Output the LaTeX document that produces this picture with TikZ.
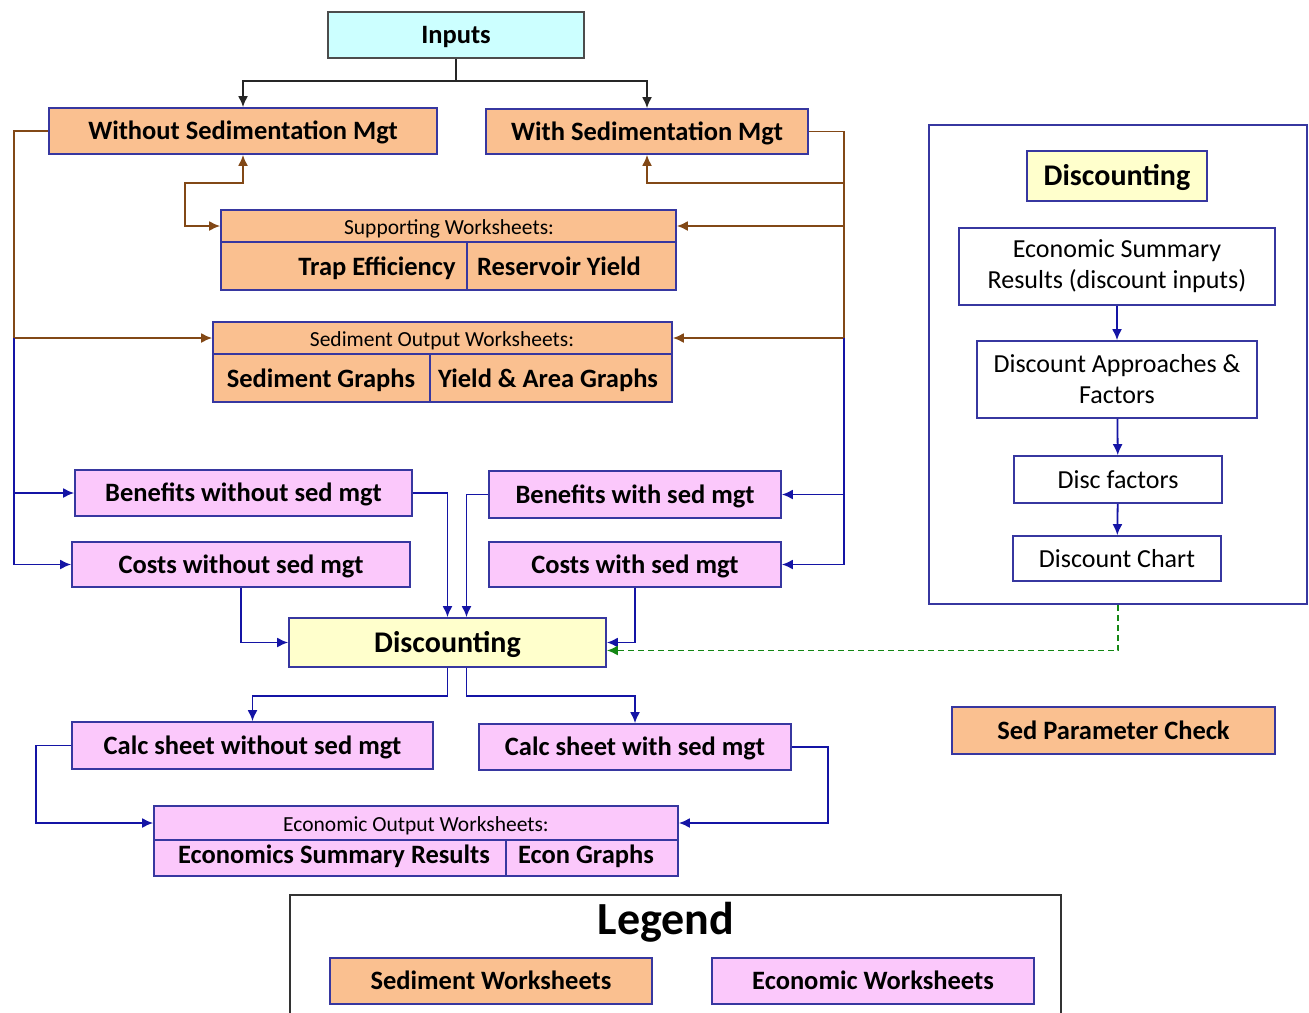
\documentclass[tikz,border=0pt]{standalone}
\usepackage{fontspec}
\setmainfont{Carlito}
\usetikzlibrary{arrows.meta}
\definecolor{sedfill}{RGB}{250,192,144}
\definecolor{ecofill}{RGB}{251,200,251}
\definecolor{discfill}{RGB}{255,255,204}
\definecolor{infill}{RGB}{204,255,255}
\definecolor{edgeblue}{RGB}{55,55,160}
\definecolor{linkblue}{RGB}{20,20,165}
\definecolor{linkbrown}{RGB}{130,72,22}
\definecolor{linkgreen}{RGB}{20,135,20}
\newcommand{\lblfont}{\fontsize{26.5}{30}\selectfont\bfseries}
\newcommand{\hdfont}{\fontsize{21.5}{24}\selectfont}
\newcommand{\panfont}{\fontsize{26}{31}\selectfont}
\newcommand{\discfont}{\fontsize{30}{34}\selectfont\bfseries}
\newcommand{\legfont}{\fontsize{46}{52}\selectfont\bfseries}
\tikzset{
  ws/.style={draw=edgeblue, line width=1.7pt, inner sep=0pt, font=\lblfont, text height=20pt, text depth=3pt},
  sedws/.style={ws, fill=sedfill},
  ecows/.style={ws, fill=ecofill},
  discws/.style={ws, fill=discfill, font=\discfont, text height=23pt, text depth=3.5pt},
  panws/.style={draw=edgeblue, line width=1.7pt, inner sep=0pt, fill=white, font=\panfont, align=center},
  celltxt/.style={inner sep=0pt, font=\lblfont, text height=20pt, text depth=3pt},
  hdtxt/.style={inner sep=0pt, font=\hdfont},
  divline/.style={draw=edgeblue, line width=1.4pt},
  tip/.style={-{Latex[length=11pt,width=10pt]}},
  blk/.style={draw=black!85, line width=1.8pt, tip},
  brn/.style={draw=linkbrown, line width=1.8pt},
  blu/.style={draw=linkblue, line width=1.8pt, tip},
}

\begin{document}
\begin{tikzpicture}[x=1pt, y=-1pt]
  \useasboundingbox (0,0) rectangle (1309,1012);

  \node[ws, fill=infill, draw=black!70, minimum width=256pt, minimum height=46pt] (inputs) at (456,35) {Inputs};
  \node[sedws, minimum width=388pt, minimum height=46pt] (without) at (243,131) {Without Sedimentation Mgt};
  \node[sedws, minimum width=322pt, minimum height=45pt] (with) at (647,131.5) {With Sedimentation Mgt};

  \node[sedws, minimum width=455pt, minimum height=32pt] (suphead) at (448.5,226) {};
  \node[hdtxt] (suptxt) at (449,229) {Supporting Worksheets:};
  \node[sedws, minimum width=455pt, minimum height=48pt] (suprow) at (448.5,266) {};
  \draw[divline] (467,243) -- (467,289);
  \node[celltxt] (traptxt) at (377,267) {Trap Efficiency};
  \node[celltxt] (yieldtxt) at (559,267) {Reservoir Yield};

  \node[sedws, minimum width=459pt, minimum height=32pt] (sedhead) at (442.5,338) {};
  \node[hdtxt] (sedtxt) at (442,341) {Sediment Output Worksheets:};
  \node[sedws, minimum width=459pt, minimum height=48pt] (sedrow) at (442.5,378) {};
  \draw[divline] (430,355) -- (430,401);
  \node[celltxt] (sedgtxt) at (321,379) {Sediment Graphs};
  \node[celltxt] (areatxt) at (548,379) {Yield \& Area Graphs};

  \node[ecows, minimum width=337pt, minimum height=46pt] (benwo) at (243.5,493) {Benefits without sed mgt};
  \node[ecows, minimum width=338pt, minimum height=45pt] (costwo) at (241,564.5) {Costs without sed mgt};
  \node[ecows, minimum width=292pt, minimum height=47pt] (benw) at (635,494.5) {Benefits with sed mgt};
  \node[ecows, minimum width=292pt, minimum height=45pt] (costw) at (635,564.5) {Costs with sed mgt};

  \node[discws, minimum width=317pt, minimum height=49pt] (disc) at (447.5,642.5) {Discounting};

  \node[ecows, minimum width=361pt, minimum height=47pt] (calcwo) at (252.5,745.5) {Calc sheet without sed mgt};
  \node[ecows, minimum width=312pt, minimum height=46pt] (calcw) at (635,747) {Calc sheet with sed mgt};

  \node[ecows, minimum width=524pt, minimum height=34pt] (ecohead) at (416,823) {};
  \node[hdtxt] (ecotxt) at (416,826) {Economic Output Worksheets:};
  \node[ecows, minimum width=524pt, minimum height=36pt] (ecorow) at (416,858) {};
  \draw[divline] (506,841) -- (506,875);
  \node[celltxt] (esumtxt) at (334,855) {Economics Summary Results};
  \node[celltxt] (egrtxt) at (586,855) {Econ Graphs};

  % discounting panel
  \node[draw=edgeblue, line width=1.7pt, minimum width=378pt, minimum height=479pt] (panel) at (1118,364.5) {};
  \node[discws, minimum width=180pt, minimum height=50pt] (pdisc) at (1117,176) {Discounting};
  \node[panws, minimum width=316pt, minimum height=77pt] (esr) at (1117,266.5) {Economic Summary\\Results (discount inputs)};
  \node[panws, minimum width=280pt, minimum height=77pt] (dap) at (1117,379.5) {Discount Approaches \&\\Factors};
  \node[panws, minimum width=208pt, minimum height=47pt] (dfac) at (1118,479.5) {Disc factors};
  \node[panws, minimum width=208pt, minimum height=45pt] (dchart) at (1117,558.5) {Discount Chart};

  \node[sedws, minimum width=323pt, minimum height=47pt] (spc) at (1113.5,730.5) {Sed Parameter Check};

  % legend
  \draw[draw=black!80, line width=1.4pt] (290,1030) -- (290,895) -- (1061,895) -- (1061,1030);
  \node[inner sep=0pt, font=\legfont] (legend) at (666,922) {Legend};
  \node[sedws, minimum width=322pt, minimum height=46pt] (sedleg) at (491,981) {Sediment Worksheets};
  \node[ecows, minimum width=322pt, minimum height=46pt] (ecoleg) at (873,981) {Economic Worksheets};

  \coordinate (lbus) at (14,338);
  \coordinate (rbus) at (844,338);
  \coordinate (rsup) at (844,226);
  \coordinate (rwith) at (844,183);
  \coordinate (lsup) at (185,183);

  \draw[blk] (inputs.south) -- ++(0,22) -| (without.north);
  \draw[blk] (inputs.south) -- ++(0,22) -| (with.north);

  \draw[brn, {Latex[length=11pt,width=10pt]}-{Latex[length=11pt,width=10pt]}] (without.south) |- (lsup) |- (suphead.west);
  \draw[brn] (without.west) -| (lbus);
  \draw[brn, tip] (lbus) -- (sedhead.west);
  \draw[brn] (with.east) -| (rbus);
  \draw[brn, tip] (rwith) -| (with.south);
  \draw[brn, tip] (rsup) -- (suphead.east);
  \draw[brn, tip] (rbus) -- (sedhead.east);

  \draw[blu] (lbus) |- (benwo.west);
  \draw[blu] (lbus) |- (costwo.west);
  \draw[blu] (rbus) |- (benw.east);
  \draw[blu] (rbus) |- (costw.east);

  \draw[blu] (benwo.east) -| (disc.north);
  \draw[blu] (benw.west) -| ([xshift=19pt]disc.north);
  \draw[blu] (costwo.south) |- (disc.west);
  \draw[blu] (costw.south) |- (disc.east);
  \draw[draw=linkgreen, line width=1.8pt, dash pattern=on 6pt off 4pt, tip] (panel.south) |- ([yshift=-8pt]disc.east);

  \draw[blu] (disc.south) -- ++(0,28) -| (calcwo.north);
  \draw[blu] ([xshift=19pt]disc.south) -- ++(0,28) -| (calcw.north);
  \draw[blu] (calcwo.west) -- ++(-35,0) |- (ecohead.west);
  \draw[blu] (calcw.east) -- ++(36,0) |- (ecohead.east);

  \draw[blu] (esr) -- (dap);
  \draw[blu] (dap) -- (dfac);
  \draw[blu] (dfac) -- (dchart);
\end{tikzpicture}
\end{document}
